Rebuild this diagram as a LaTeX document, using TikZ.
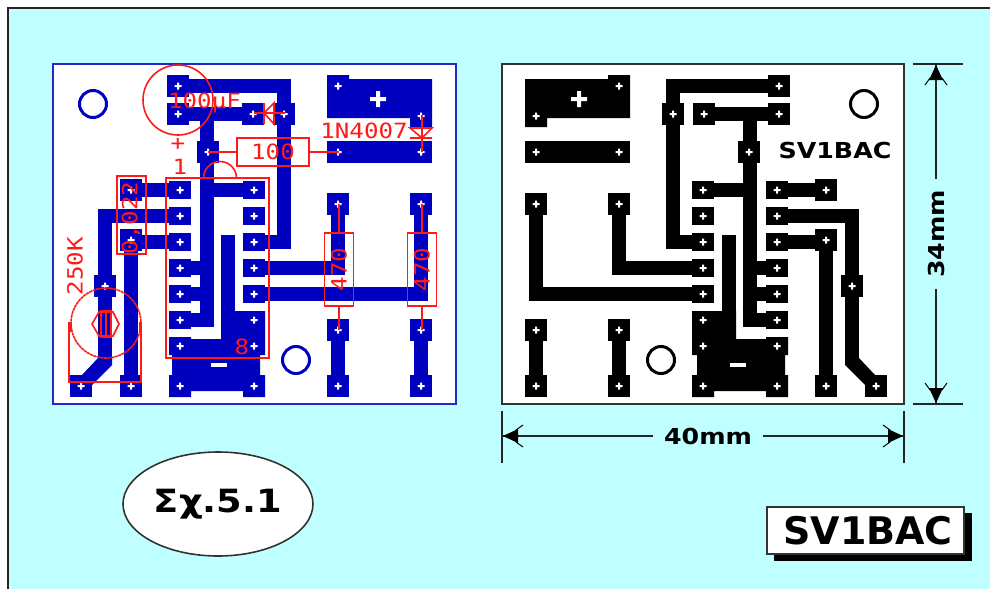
\documentclass[tikz,border=0pt]{standalone}
\usepackage{fontspec}
\usetikzlibrary{shapes.geometric}
\setmainfont{DejaVu Sans}
\newfontfamily\redfont[FakeStretch=1.15]{DejaVu Sans Mono}
\newfontfamily\widefont[FakeStretch=1.15]{DejaVu Sans}
\definecolor{sky}{HTML}{BFFFFF}
\definecolor{pcbblue}{HTML}{0000BF}
\definecolor{partred}{HTML}{FF1A1A}
\newcommand{\pcbart}[1]{%
  \begin{scope}[fill=#1,draw=none]
  \fill (525,79)--(608,79)--(608,75)--(630,75)--(630,118)--(547,118)--(547,127)--(525,127)--cycle;
  \fill (692,311)--(736,311)--(736,339)--(766,339)--(766,337)--(788,337)--(788,355)--(785,355)--(785,375)--(788,375)--(788,397)--(766,397)--(766,391)--(714,391)--(714,397)--(692,397)--(692,375)--(697,375)--(697,355)--(692,355)--cycle;
  \fill (845,358)--(859,358)--(875,375)--(875,390)--(865,385)--(845,365)--cycle;
  \foreach \a/\b/\c/\d in {525/141/630/163,529/204/543/301,529/287/703/301,612/204/626/275,612/261/703/275,529/330/543/386,612/330/626/386,666/79/680/248,666/79/779/93,666/235/703/249,704/107/779/121,743/107/757/327,703/183/750/197,743/313/777/327,750/261/777/275,750/287/777/301,722/235/736/320,777/235/826/249,819/240/833/386,777/183/826/197,777/209/859/223,845/209/859/360}
    \fill (\a,\b) rectangle (\c,\d);
  \foreach \x/\y in {536/204,619/204,536/330,536/386,619/330,619/386,673/114,704/114,779/86,779/114,749/152,826/386,876/386,852/286,703/386,777/386,826/190,826/240}
    \fill (\x-11,\y-11) rectangle (\x+11,\y+11);
  \foreach \x in {703,777} \foreach \y in {190,216,242,268,294,320,346}
    \fill (\x-11,\y-9) rectangle (\x+11,\y+9);
  \end{scope}
  \foreach \x/\y in {619/86,536/116,536/152,619/152,536/204,619/204,536/330,536/386,619/330,619/386,673/114,704/114,779/86,779/114,749/152,826/386,876/386,852/286,703/386,777/386,826/190,826/240,703/190,703/216,703/242,703/268,703/294,703/320,703/346,777/190,777/216,777/242,777/268,777/294,777/320,777/346}
    {\fill[white] (\x-3.5,\y-1) rectangle (\x+3.5,\y+1) (\x-1,\y-3.5) rectangle (\x+1,\y+3.5);}
  \fill[white] (571,97) rectangle (587,101) (577,91) rectangle (581,107);
  \fill[white] (730,363) rectangle (746,367);
  \draw[draw=#1,line width=3] (864,104) circle (13.5) (661,360) circle (13.5);
}
\tikzset{
  x=1pt,y=-1pt,
  part/.style={draw=partred,line width=1.6,fill=none},
  redtext/.style={text=partred,font=\redfont\fontsize{21}{21}\selectfont,inner sep=0},
  dimtext/.style={font=\widefont\bfseries\fontsize{22}{22}\selectfont,inner ysep=0,inner xsep=11},
  dimline/.style={draw=black!85,line width=1.6},
  dimtip/.pic={
    \fill[black] (-1,0)--(-16,-7)--(-16,7)--cycle;
    \draw[black,line width=1] (-14,-6)--(-21,-11) (-14,6)--(-21,11);
  }
}
\begin{document}
\begin{tikzpicture}
\path[use as bounding box] (0,0) rectangle (990,589);
\fill[white] (0,0) rectangle (990,589);
\fill[sky] (8,8) rectangle (990,589);
\draw[black!85,line width=1.6] (8,589)--(8,8)--(990,8);
% left board
\draw[draw=pcbblue!85!white,fill=white,line width=2] (53,64) rectangle (456,404);
\begin{scope}[shift={(957,0)},xscale=-1]
  \pcbart{pcbblue}
\end{scope}
% parts
\draw[part] (178,100) circle (35);
\node[redtext] (capval) at (204.5,103) {100µF};
\node[redtext] (capplus) at (178,144) {+};
\node[redtext] (pin1) at (180,167) {1};
\draw[part] (166,178) rectangle (269,358);
\draw[part] (203.5,178) arc[start angle=180,end angle=360,radius=16.5];
\node[redtext] (pin8) at (242,347) {8};
\draw[part] (117,176) rectangle (146,254);
\node[redtext,rotate=90] (cval) at (131,218) {0,022};
% small diode
\draw[part] (254,113)--(285,113) (264,103)--(264,124) (274,103)--(264,113)--(274,124)--cycle;
% 100 resistor
\coordinate (r1a) at (208,152); \coordinate (r1b) at (339,152);
\node[part,minimum width=72,minimum height=28,inner sep=0,redtext,draw=partred] (r1) at (273,152) {100};
\draw[part] (r1a)--(r1.west) (r1.east)--(r1b);
% 1N4007
\node[redtext] (dlabel) at (364,131) {1N4007};
\draw[part] (422,115)--(422,152) (410,138)--(432,138) (410,128)--(432,128)--(422,138)--cycle;
% 470 resistors
\foreach \n/\x in {a/339,b/422}{
  \coordinate (rt\n) at (\x,204); \coordinate (rb\n) at (\x,330);
  \node[part,minimum width=73,minimum height=29,inner sep=0,rotate=90,redtext,draw=partred] (r\n) at (\x,269.5) {470};
  \draw[part] (rt\n)--(r\n.east) (r\n.west)--(rb\n);
}
% pot
\draw[part,dash pattern=on 3pt off 0.6pt] (106,323) circle (35);
\draw[part] (69,322)--(69,382)--(141,382)--(141,322);
\draw[partred,line width=3] (70,322)--(70,332) (140,322)--(140,332);
\draw[part] (92,324)--(99,312)--(113,312)--(119,324)--(113,336)--(99,336)--cycle;
\draw[part,line width=1.8] (101,311) rectangle (111,337) (106,311)--(106,337);
\node[redtext,rotate=90] (potval) at (75,266) {250K};
% right board
\draw[draw=black!80,fill=white,line width=2] (502,64) rectangle (904,404);
\pcbart{black}
\node[font=\widefont\bfseries\fontsize{22}{22}\selectfont,inner sep=0] (call) at (835,150.5) {SV1BAC};
% dimensions
\coordinate (ht) at (913,64); \coordinate (htr) at (963,64);
\coordinate (hb) at (913,404); \coordinate (hbr) at (963,404);
\draw[dimline] (ht)--(htr) (hb)--(hbr);
\node[dimtext,rotate=90] (h) at (936,234) {34mm};
\coordinate (vt) at (936,64); \coordinate (vb) at (936,404);
\draw[dimline] (vt)--(h.east) (h.west)--(vb);
\pic[rotate=90] at (vt) {dimtip};
\pic[rotate=270] at (vb) {dimtip};
\coordinate (wlt) at (502,411); \coordinate (wlb) at (502,463);
\coordinate (wrt) at (904,411); \coordinate (wrb) at (904,463);
\draw[dimline] (wlt)--(wlb) (wrt)--(wrb);
\node[dimtext] (w) at (708,436) {40mm};
\coordinate (wl) at (502,436); \coordinate (wr) at (904,436);
\draw[dimline] (wl)--(w.west) (w.east)--(wr);
\pic[rotate=180] at (wl) {dimtip};
\pic at (wr) {dimtip};
% labels
\node[draw=black!80,fill=white,line width=1.6,ellipse,minimum width=190,minimum height=104,inner sep=0,font=\widefont\bfseries\fontsize{32}{32}\selectfont] (ex) at (218,504) {Σχ.5.1};
\fill[black] (774,513) rectangle (972,561);
\node[draw=black!80,fill=white,line width=1.6,minimum width=197,minimum height=47,inner sep=0,font=\bfseries\fontsize{38}{38}\selectfont] (sig) at (865.5,530.5) {\hspace{5pt}SV1BAC};
\end{tikzpicture}
\end{document}
